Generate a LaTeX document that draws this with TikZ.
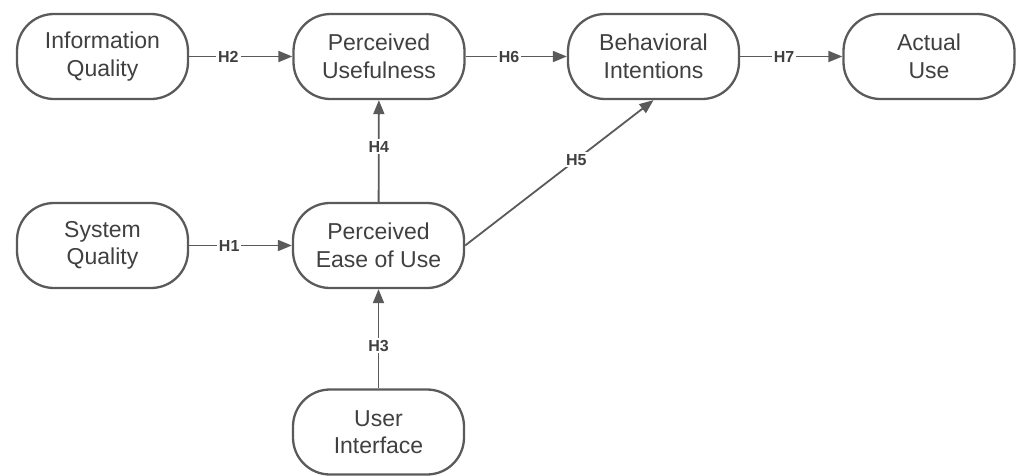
\documentclass[tikz,border=0pt]{standalone}
\usepackage{fontspec}
\setmainfont{Liberation Sans}
\usetikzlibrary{arrows.meta}
\definecolor{edgegray}{HTML}{5A5A5A}
\definecolor{textgray}{HTML}{404040}
\tikzset{
  box/.style={draw=edgegray, line width=2.3pt, rounded corners=37pt,
    minimum width=171pt, minimum height=85pt, align=center,
    text=textgray, font=\fontsize{23}{27.5}\selectfont, inner sep=0pt},
  conn/.style={draw=edgegray, line width=1.8pt,
    -{Triangle[length=14pt,width=11pt]}},
  lab/.style={fill=white, text=textgray, font=\fontsize{16}{18}\selectfont\bfseries,
    inner sep=2pt}
}
\begin{document}
\begin{tikzpicture}[x=1pt,y=-1pt]
\useasboundingbox (0,0) rectangle (1018,475);
\node[box] (iq) at (102.5,56.5) {Information\\Quality};
\node[box] (pu) at (379,56.5) {Perceived\\Usefulness};
\node[box] (bi) at (653.5,56.5) {Behavioral\\Intentions};
\node[box] (au) at (929,56.5) {Actual\\Use};
\node[box] (sq) at (102.5,245.5) {System\\Quality};
\node[box] (pe) at (378.5,245.5) {Perceived\\Ease of Use};
\node[box] (ui) at (378.5,432) {User\\Interface};
\draw[conn] (iq) -- node[lab, pos=0.38] {H2} (pu);
\draw[conn] (pu) -- node[lab, pos=0.43] {H6} (bi);
\draw[conn] (bi) -- node[lab, pos=0.43] {H7} (au);
\draw[conn] (sq) -- node[lab, pos=0.39] {H1} (pe);
\draw[conn] (pe) -- node[lab, pos=0.54] {H4} (pu);
\draw[conn] (ui) -- node[lab, pos=0.43] {H3} (pe);
\draw[conn] (pe.east) -- node[lab, pos=0.59] {H5} (bi.south);
\end{tikzpicture}
\end{document}
